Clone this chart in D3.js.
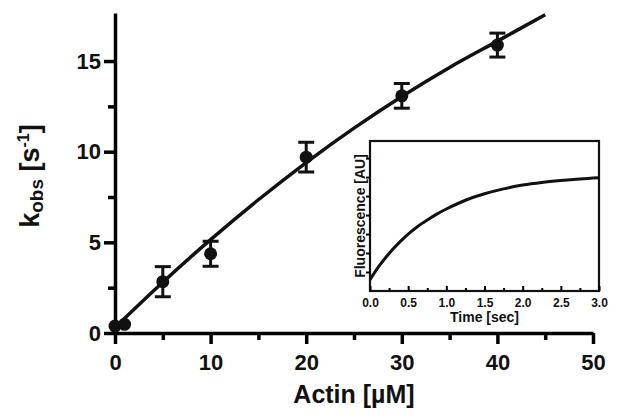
<!DOCTYPE html>
<html>
<head>
<meta charset="utf-8">
<script src="https://cdn.jsdelivr.net/npm/d3@7"></script>
<style>
  body { margin: 0; background: #fff; }
  svg text { font-family: "Liberation Sans", Arial, sans-serif; font-weight: bold; }
</style>
</head>
<body>
<svg id="chart" width="620" height="420"></svg>
<script>
// main data: kobs vs actin
var actin = [0, 1, 5, 10, 20, 30, 40];
var kobs = [0.38, 0.48, 2.83, 4.37, 9.7, 13.08, 15.88];
var kobsErr = [0, 0, 0.83, 0.69, 0.82, 0.68, 0.66];

// fitted curve
var fitActin = [0, 5, 10, 15, 20, 25, 30, 35, 40, 45];
var fitKobs = [0.3, 2.8, 5.15, 7.35, 9.4, 11.3, 13.05, 14.65, 16.1, 17.55];

var xTicks = [0, 10, 20, 30, 40, 50];
var xMinor = [5, 15, 25, 35, 45];
var yTicks = [0, 5, 10, 15];
var yMinor = [2.5, 7.5, 12.5];

// inset: fluorescence trace
var time = [0, 0.125, 0.25, 0.375, 0.5, 0.625, 0.75, 0.875, 1.0, 1.25, 1.5, 1.75, 2.0, 2.25, 2.5, 2.75, 3.0];
var fluor = [0.6, 1.35, 1.98, 2.52, 3.0, 3.4, 3.74, 4.05, 4.32, 4.78, 5.12, 5.38, 5.58, 5.72, 5.82, 5.9, 5.96];
var insetXTicks = [0, 0.5, 1.0, 1.5, 2.0, 2.5, 3.0];
var insetXMinor = [0.25, 0.75, 1.25, 1.75, 2.25, 2.75];
var insetYTicks = [1, 2, 3, 4, 5, 6, 7];

var svg = d3.select("#chart");

var x = d3.scaleLinear().domain([0, 50]).range([115, 593]);
var y = d3.scaleLinear().domain([0, 17.65]).range([333, 13]);

// minor ticks first
svg.append("g")
  .attr("transform", "translate(0,333)")
  .call(d3.axisBottom(x).tickValues(xMinor).tickSize(7).tickFormat(""))
  .call(function (g) { g.select(".domain").remove(); })
  .selectAll("line").attr("stroke-width", 3.5);
svg.append("g")
  .attr("transform", "translate(115,0)")
  .call(d3.axisLeft(y).tickValues(yMinor).tickSize(7).tickFormat(""))
  .call(function (g) { g.select(".domain").remove(); })
  .selectAll("line").attr("stroke-width", 3.5);

// X axis
var gx = svg.append("g")
  .attr("transform", "translate(0,333)")
  .call(d3.axisBottom(x).tickValues(xTicks).tickSize(11).tickSizeOuter(0).tickPadding(10));
gx.select(".domain").attr("stroke-width", 3.5);
gx.selectAll("line").attr("stroke-width", 3.5);
gx.selectAll("text").style("font-size", "22px").attr("fill", "#111");

// Y axis
var gy = svg.append("g")
  .attr("transform", "translate(115,0)")
  .call(d3.axisLeft(y).tickValues(yTicks).tickSize(11).tickSizeOuter(0).tickPadding(3));
gy.select(".domain").attr("stroke-width", 3.5);
gy.selectAll("line").attr("stroke-width", 3.5);
gy.selectAll("text").style("font-size", "22px").attr("fill", "#111");

// axis titles
svg.append("text")
  .attr("x", 354).attr("y", 403)
  .attr("text-anchor", "middle")
  .style("font-size", "25px")
  .attr("fill", "#111")
  .text("Actin [\u00b5M]");

var yl = svg.append("text")
  .attr("transform", "translate(39,176) rotate(-90)")
  .attr("text-anchor", "middle")
  .style("font-size", "27px")
  .attr("fill", "#111");
yl.append("tspan").text("k");
yl.append("tspan").attr("dy", 4).style("font-size", "19px").text("obs");
yl.append("tspan").attr("dy", -4).text(" [s");
yl.append("tspan").attr("dy", -10).style("font-size", "16px").text("-1");
yl.append("tspan").attr("dy", 10).text("]");

// fit line
var pts = fitActin.map(function (d, i) { return [d, fitKobs[i]]; });
svg.append("path")
  .datum(pts)
  .attr("fill", "none")
  .attr("stroke", "#111")
  .attr("stroke-width", 3.5)
  .attr("d", d3.line()
    .x(function (d) { return x(d[0]); })
    .y(function (d) { return y(d[1]); })
    .curve(d3.curveCatmullRom));

// error bars
var data = actin.map(function (d, i) { return { a: d, k: kobs[i], e: kobsErr[i] }; });
var eb = svg.selectAll(".eb").data(data.filter(function (d) { return d.e > 0; }))
  .enter().append("g").attr("stroke", "#111").attr("stroke-width", 3);
eb.append("line")
  .attr("x1", function (d) { return x(d.a); }).attr("x2", function (d) { return x(d.a); })
  .attr("y1", function (d) { return y(d.k - d.e); }).attr("y2", function (d) { return y(d.k + d.e); });
eb.append("line")
  .attr("x1", function (d) { return x(d.a) - 8; }).attr("x2", function (d) { return x(d.a) + 8; })
  .attr("y1", function (d) { return y(d.k + d.e); }).attr("y2", function (d) { return y(d.k + d.e); });
eb.append("line")
  .attr("x1", function (d) { return x(d.a) - 8; }).attr("x2", function (d) { return x(d.a) + 8; })
  .attr("y1", function (d) { return y(d.k - d.e); }).attr("y2", function (d) { return y(d.k - d.e); });

// points
svg.selectAll(".pt").data(data).enter().append("circle")
  .attr("cx", function (d) { return x(d.a); })
  .attr("cy", function (d) { return y(d.k); })
  .attr("r", 6.5)
  .attr("fill", "#111");

// ---- inset ----
var ix = d3.scaleLinear().domain([0, 3]).range([370, 599]);
var iy = d3.scaleLinear().domain([0, 7.9]).range([291, 141]);

svg.append("rect")
  .attr("x", 370).attr("y", 141).attr("width", 229).attr("height", 150)
  .attr("fill", "#fff");

var trace = time.map(function (d, i) { return [d, fluor[i]]; });
svg.append("path")
  .datum(trace)
  .attr("fill", "none")
  .attr("stroke", "#111")
  .attr("stroke-width", 3)
  .attr("d", d3.line()
    .x(function (d) { return ix(d[0]); })
    .y(function (d) { return iy(d[1]); })
    .curve(d3.curveCatmullRom));

svg.append("rect")
  .attr("x", 370).attr("y", 141).attr("width", 229).attr("height", 150)
  .attr("fill", "none").attr("stroke", "#111").attr("stroke-width", 2.2);

var gix = svg.append("g")
  .attr("transform", "translate(0,291)")
  .call(d3.axisBottom(ix).tickValues(insetXTicks).tickSize(-5).tickPadding(7).tickFormat(d3.format(".1f")));
gix.select(".domain").remove();
gix.selectAll("line").attr("stroke-width", 2);
gix.selectAll("text").style("font-size", "12px").attr("fill", "#111");

svg.append("g")
  .attr("transform", "translate(0,291)")
  .call(d3.axisBottom(ix).tickValues(insetXMinor).tickSize(-3).tickFormat(""))
  .call(function (g) { g.select(".domain").remove(); })
  .selectAll("line").attr("stroke-width", 2);

svg.append("g")
  .attr("transform", "translate(370,0)")
  .call(d3.axisLeft(iy).tickValues(insetYTicks).tickSize(4).tickFormat(""))
  .call(function (g) { g.select(".domain").remove(); })
  .selectAll("line").attr("stroke-width", 2);

svg.append("text")
  .attr("x", 484.5).attr("y", 322)
  .attr("text-anchor", "middle")
  .style("font-size", "14px")
  .attr("fill", "#111")
  .text("Time [sec]");

svg.append("text")
  .attr("transform", "translate(365,216) rotate(-90)")
  .attr("text-anchor", "middle")
  .style("font-size", "14px")
  .attr("fill", "#111")
  .text("Fluorescence [AU]");
</script>
</body>
</html>
